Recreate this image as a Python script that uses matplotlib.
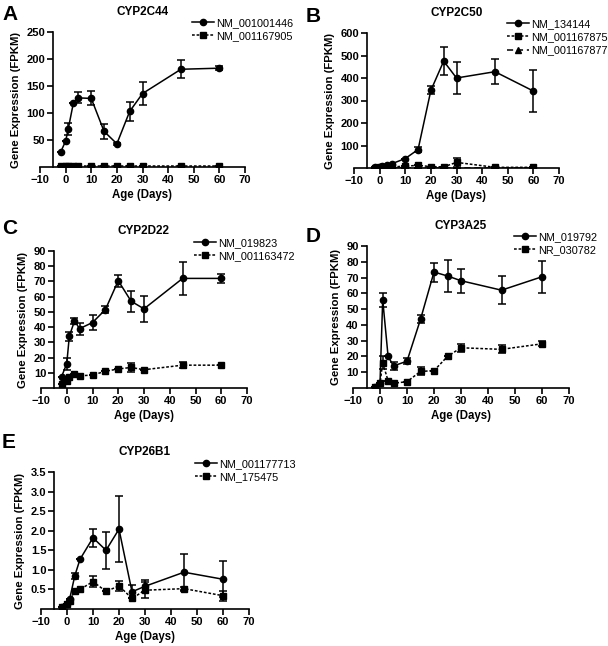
import numpy as np
import matplotlib.pyplot as plt

plt.rcParams['font.family'] = ['Liberation Sans', 'DejaVu Sans']

days = [-2, 0, 1, 3, 5, 10, 15, 20, 25, 30, 45, 60]

# Panel A - CYP2C44
a_s1 = [27, 48, 70, 118, 128, 127, 66, 43, 103, 136, 181, 183]
a_s1_err = [0, 0, 11, 0, 10, 13, 14, 2, 18, 21, 17, 4]
a_s2 = [1, 1, 1, 1, 1, 1, 1, 1, 1, 1, 1, 1]
a_s2_err = [0] * 12

# Panel B - CYP2C50
b_s1 = [3, 5, 8, 15, 20, 42, 82, 345, 475, 400, 428, 342]
b_s1_err = [0, 0, 0, 0, 0, 0, 10, 18, 63, 70, 55, 93]
b_s2 = [2, 3, 4, 5, 5, 8, 12, 6, 5, 25, 3, 3]
b_s2_err = [0, 0, 0, 0, 0, 0, 0, 0, 0, 20, 0, 0]
b_s3 = [1] * 12
b_s3_err = [0] * 12

# Panel C - CYP2D22
c_s1 = [7.5, 16, 34, 44, 39, 43, 51.5, 70.5, 57, 52, 72, 72]
c_s1_err = [0, 4, 3, 2, 4, 5, 2.5, 4, 7, 8.5, 11, 3]
c_s2 = [2.5, 4.5, 7.5, 9, 8, 8.5, 11, 12.5, 13.5, 12, 15, 15]
c_s2_err = [0, 0, 0, 0, 0, 0, 0, 0, 3, 0, 2, 0]

# Panel D - CYP3A25
d_s1 = [0.5, 3, 56, 20, 14, 17, 43.5, 73.5, 71, 68, 62, 70.5]
d_s1_err = [0, 0, 4.5, 0, 2.5, 2, 2.5, 6, 10, 7.5, 9, 10]
d_s2 = [0.5, 3, 16, 4.5, 3, 4, 10.5, 11, 20, 25.5, 24.5, 28]
d_s2_err = [0, 0, 4, 0, 0, 0, 2.5, 0, 0, 2.5, 2.5, 1.5]

# Panel E - CYP26B1
e_s1 = [0.05, 0.12, 0.25, 0.85, 1.27, 1.82, 1.50, 2.04, 0.44, 0.58, 0.94, 0.76]
e_s1_err = [0, 0, 0, 0.08, 0, 0.23, 0.47, 0.85, 0.17, 0.15, 0.46, 0.46]
e_s2 = [0.05, 0.12, 0.2, 0.46, 0.5, 0.70, 0.45, 0.59, 0.27, 0.48, 0.52, 0.34]
e_s2_err = [0, 0, 0, 0, 0, 0.15, 0, 0.12, 0, 0.2, 0.05, 0.13]

W, H = 608, 646

STYLES = [
    dict(marker='o', ls='-', ms=4.5),
    dict(marker='s', ls=(0, (1.8, 1.2)), ms=4.5),
    dict(marker='^', ls=(0, (4, 2.5)), ms=4.5),
]


def px_axes(fig, x0, x1, ytop, ybot):
    return fig.add_axes([x0 / W, 1 - ybot / H, (x1 - x0) / W, (ybot - ytop) / H])


def panel(fig, box, letter, letter_xy, title, series, labels, ymax, yticks,
          ytick_labels, leg_xy):
    ax = px_axes(fig, *box)
    handles = []
    for i, (y, err) in enumerate(series):
        st = STYLES[i]
        h = ax.errorbar(days, y, yerr=err, color='black', lw=1.1,
                        marker=st['marker'], ms=st['ms'], ls=st['ls'],
                        capsize=3, elinewidth=1.1, capthick=1.1, zorder=3)
        handles.append(h)
    ax.set_xlim(-10, 70)
    ax.set_ylim(0, ymax)
    ax.set_xticks(range(-10, 71, 10))
    ax.set_yticks(yticks)
    ax.set_yticklabels(ytick_labels)
    ax.spines['left'].set_position(('data', -5))
    ax.spines['left'].set_bounds(0, ymax)
    ax.spines['top'].set_visible(False)
    ax.spines['right'].set_visible(False)
    for s in ('left', 'bottom'):
        ax.spines[s].set_linewidth(1.2)
    ax.tick_params(direction='out', length=4, width=1.2, labelsize=8, pad=1.5)
    for t in ax.get_xticklabels() + ax.get_yticklabels():
        t.set_fontweight('bold')
    ax.set_xlabel('Age (Days)', fontsize=8.3, fontweight='bold', labelpad=3)
    ax.set_ylabel('Gene Expression (FPKM)', fontsize=8.2, fontweight='bold',
                  labelpad=4)
    ax.set_title(title, fontsize=8.5, fontweight='bold', pad=12)
    fig.text(letter_xy[0] / W, 1 - letter_xy[1] / H, letter, fontsize=15,
             fontweight='bold', ha='left', va='center')
    hs = [h[0] for h in handles]
    fig.legend(hs, labels, loc='upper left',
               bbox_to_anchor=(leg_xy[0] / W, 1 - leg_xy[1] / H),
               frameon=False, fontsize=7.8, handlelength=2.0,
               handletextpad=0.25, labelspacing=0.3, borderpad=0,
               borderaxespad=0)
    return ax


fig = plt.figure(figsize=(W / 100, H / 100), dpi=100)
fig.patch.set_facecolor('white')

panel(fig, (40, 245, 32, 167), 'A', (2, 15), 'CYP2C44',
      [(a_s1, a_s1_err), (a_s2, a_s2_err)],
      ['NM_001001446', 'NM_001167905'], 250,
      [50, 100, 150, 200, 250], ['50', '100', '150', '200', '250'], (192, 18))

panel(fig, (354, 559, 33, 168), 'B', (306, 17), 'CYP2C50',
      [(b_s1, b_s1_err), (b_s2, b_s2_err), (b_s3, b_s3_err)],
      ['NM_134144', 'NM_001167875', 'NM_001167877'], 600,
      [100, 200, 300, 400, 500, 600],
      ['100', '200', '300', '400', '500', '600'], (507, 19))

panel(fig, (41, 247, 251, 388), 'C', (2, 228), 'CYP2D22',
      [(c_s1, c_s1_err), (c_s2, c_s2_err)],
      ['NM_019823', 'NM_001163472'], 90,
      list(range(10, 91, 10)), [str(v) for v in range(10, 91, 10)], (194, 238))

panel(fig, (353, 569, 246, 388), 'D', (306, 236), 'CYP3A25',
      [(d_s1, d_s1_err), (d_s2, d_s2_err)],
      ['NM_019792', 'NR_030782'], 90,
      list(range(10, 91, 10)), [str(v) for v in range(10, 91, 10)], (514, 232))

panel(fig, (41, 249, 472, 609), 'E', (2, 443), 'CYP26B1',
      [(e_s1, e_s1_err), (e_s2, e_s2_err)],
      ['NM_001177713', 'NM_175475'], 3.5,
      [0.5, 1.0, 1.5, 2.0, 2.5, 3.0, 3.5],
      ['0.5', '1.0', '1.5', '2.0', '2.5', '3.0', '3.5'], (195, 459))

fig.savefig('out.png', dpi=100, facecolor='white')
